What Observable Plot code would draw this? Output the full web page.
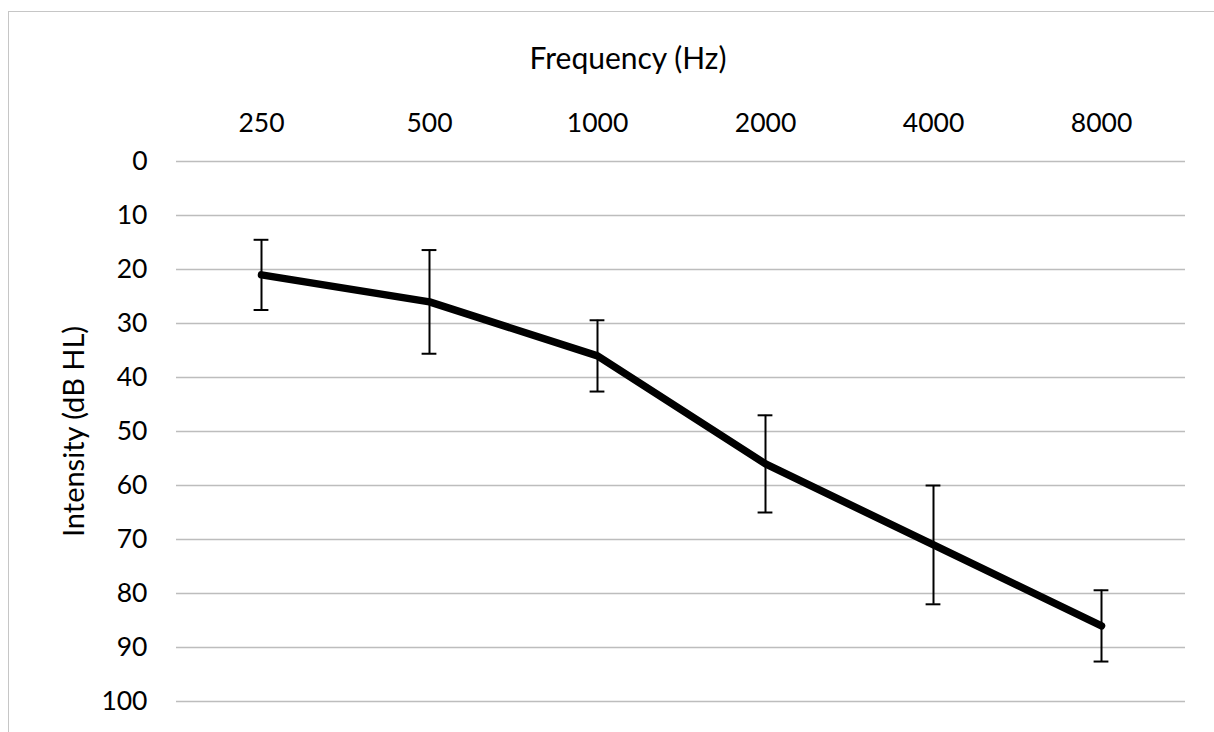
<!DOCTYPE html>
<html>
<head>
<meta charset="utf-8">
<script src="https://cdn.jsdelivr.net/npm/d3@7"></script>
<script src="https://cdn.jsdelivr.net/npm/@observablehq/plot@0.6"></script>
<style>
  html, body { margin: 0; padding: 0; background: #fff; }
  #wrap { position: relative; width: 1214px; height: 732px; overflow: hidden; }
  #border { position: absolute; left: 8px; top: 11px; right: -10px; bottom: -10px;
            border-top: 1.5px solid #c6c6c6; border-left: 1.5px solid #c6c6c6; pointer-events: none; }
  #chart { position: absolute; left: 0; top: 0; }
</style>
</head>
<body>
<div id="wrap"><div id="chart"></div><div id="border"></div></div>
<script>
const frequencies = ["250", "500", "1000", "2000", "4000", "8000"];
const intensity = [21, 26, 36, 56, 71, 86];
const errorMargin = [6.5, 9.6, 6.6, 9, 11, 6.6];
const yTicks = [0, 10, 20, 30, 40, 50, 60, 70, 80, 90, 100];
const xTitle = "Frequency (Hz)";
const yTitle = "Intensity (dB HL)";

const data = frequencies.map((f, i) => ({
  freq: f,
  value: intensity[i],
  lo: intensity[i] - errorMargin[i],
  hi: intensity[i] + errorMargin[i]
}));

const font = "Lato, 'Open Sans', sans-serif";
const plot = Plot.plot({
  width: 1214,
  height: 732,
  marginTop: 161,
  marginBottom: 31,
  marginLeft: 176,
  marginRight: 29,
  style: { fontFamily: font, fontSize: "26.5px", color: "#000", background: "transparent" },
  x: { type: "band", domain: frequencies, padding: 0, axis: "top", tickSize: 0, tickPadding: 30, label: null },
  y: { domain: [0, 100], reverse: true, ticks: yTicks, tickSize: 0, tickPadding: 29, label: null },
  marks: [
    Plot.gridY(yTicks, { stroke: "#bdbdbd", strokeOpacity: 1, strokeWidth: 1.6 }),
    Plot.ruleX(data, { x: "freq", y1: "lo", y2: "hi", stroke: "#000", strokeWidth: 2 }),
    Plot.tickY(data, { x: "freq", y: "lo", stroke: "#000", strokeWidth: 2, insetLeft: 76.6, insetRight: 76.6 }),
    Plot.tickY(data, { x: "freq", y: "hi", stroke: "#000", strokeWidth: 2, insetLeft: 76.6, insetRight: 76.6 }),
    Plot.line(data, { x: "freq", y: "value", stroke: "#000", strokeWidth: 7.5, strokeLinecap: "round", strokeLinejoin: "round" }),
    Plot.text([xTitle], { frameAnchor: "top", text: d => d, dx: -53, dy: -93, lineAnchor: "bottom", fontSize: 30, fill: "#000" }),
    Plot.text([yTitle], { frameAnchor: "left", text: d => d, dx: -102, rotate: -90, textAnchor: "middle", lineAnchor: "middle", fontSize: 29, fill: "#000" })
  ]
});
document.getElementById("chart").appendChild(plot);
</script>
</body>
</html>
